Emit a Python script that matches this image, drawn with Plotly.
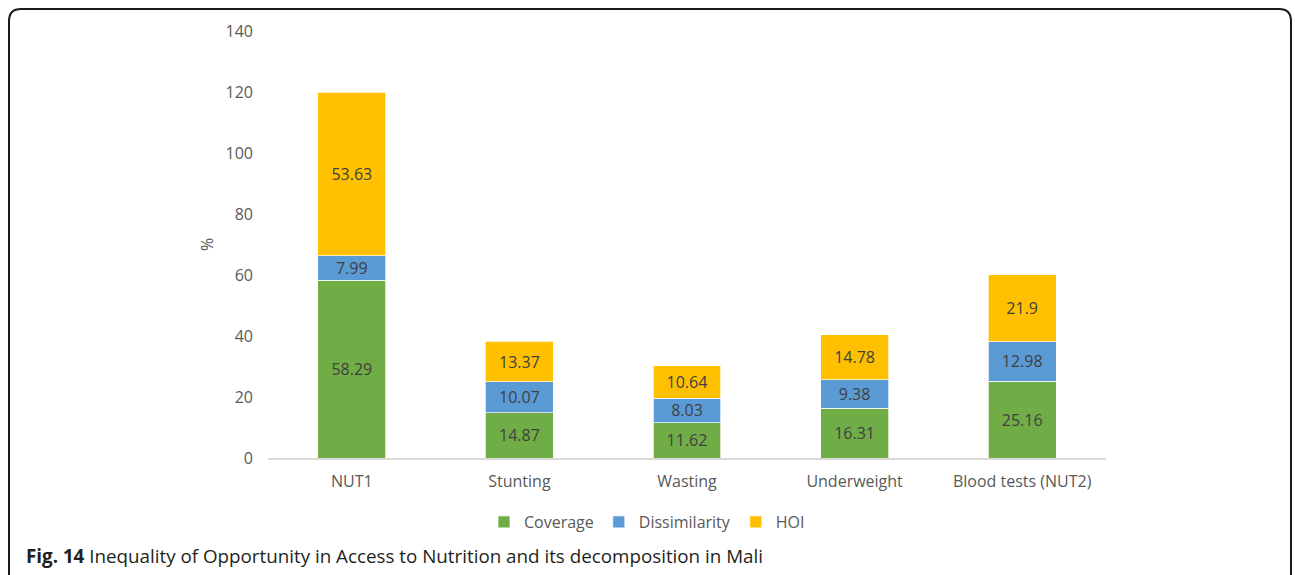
import plotly.graph_objects as go

categories = ["NUT1", "Stunting", "Wasting", "Underweight", "Blood tests (NUT2)"]
coverage = [58.29, 14.87, 11.62, 16.31, 25.16]
dissimilarity = [7.99, 10.07, 8.03, 9.38, 12.98]
hoi = [53.63, 13.37, 10.64, 14.78, 21.9]
y_ticks = [0, 20, 40, 60, 80, 100, 120, 140]

FONT = "Open Sans"
series = [("Coverage", coverage, "#70AD47"),
          ("Dissimilarity", dissimilarity, "#5B9BD5"),
          ("HOI", hoi, "#FFC000")]

fig = go.Figure()
for name, vals, col in series:
    fig.add_trace(go.Bar(
        x=categories, y=vals, name=name,
        marker=dict(color=col, line=dict(color="white", width=0.7)),
        text=[str(v) for v in vals], textposition="inside",
        insidetextanchor="middle", textangle=0,
        textfont=dict(family=FONT, size=16, color="#404040"),
        constraintext="none",
    ))

W, H = 1295, 575
L, R, T, B = 268, 1295 - 1106, 31, 575 - 458
pw, ph = W - L - R, H - T - B

def px(x):
    return (x - L) / pw

def py(y):
    return (H - B - y) / ph

# rounded border path (paper coords)
x0, x1 = px(9), px(1291)
y0, y1 = py(9), py(600)
rx, ry = 12 / pw, 12 / ph
path = (f"M {x0} {y1} L {x0} {y0 - ry} Q {x0} {y0} {x0 + rx} {y0} "
        f"L {x1 - rx} {y0} Q {x1} {y0} {x1} {y0 - ry} L {x1} {y1}")

fig.update_layout(
    barmode="stack",
    bargap=0.595,
    width=W, height=H,
    margin=dict(l=L, r=R, t=T, b=B, autoexpand=False),
    paper_bgcolor="white", plot_bgcolor="white",
    font=dict(family=FONT, size=16, color="#595959"),
    legend=dict(orientation="h", x=px(647), xanchor="center", y=py(522), yanchor="middle",
                font=dict(family=FONT, size=16, color="#595959"),
                itemwidth=30, traceorder="normal", tracegroupgap=0),
    showlegend=True,
    hovermode=False,
    uniformtext=dict(mode=False),
    shapes=[dict(type="path", path=path, xref="paper", yref="paper",
                 line=dict(color="#1a1a1a", width=2), fillcolor="rgba(0,0,0,0)", layer="above")],
    annotations=[
        dict(text="<b>Fig. 14</b> Inequality of Opportunity in Access to Nutrition and its decomposition in Mali",
             xref="paper", yref="paper", x=px(24), y=py(556), xanchor="left", yanchor="middle",
             showarrow=False, font=dict(family=FONT, size=18.8, color="#231f20")),
        dict(text="%", xref="paper", yref="paper", x=px(207), y=py(245), xanchor="center", yanchor="middle",
             textangle=-90, showarrow=False, font=dict(family=FONT, size=16, color="#595959")),
    ],
)
fig.update_xaxes(showline=True, linecolor="#D9D9D9", linewidth=1.5, showgrid=False,
                 ticks="", tickfont=dict(family=FONT, size=16, color="#595959"),
                 ticklabelstandoff=8)
fig.update_yaxes(range=[0, 140], tickvals=y_ticks, showgrid=False, zeroline=False,
                 showline=False, ticks="", tickfont=dict(family=FONT, size=16, color="#595959"),
                 ticklabelstandoff=14)

fig.write_html("out.html", config={"displayModeBar": False},
               post_script="document.body.style.margin='0';document.body.style.overflow='hidden';")
